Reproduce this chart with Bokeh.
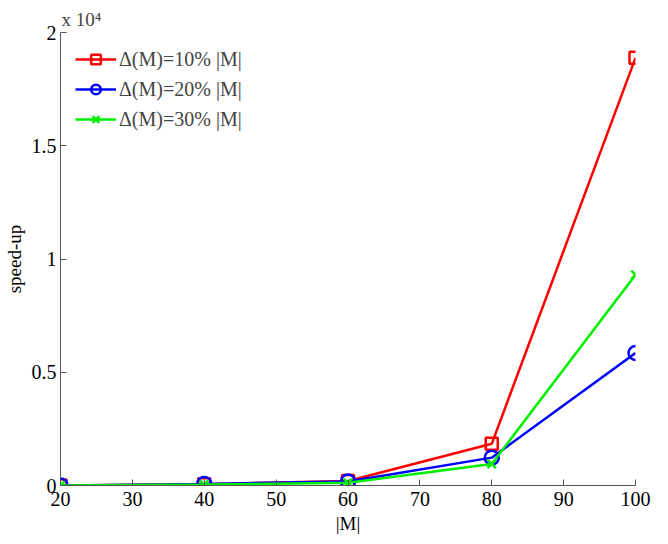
import numpy as np
from bokeh.plotting import figure
from bokeh.models import Range1d, FixedTicker, CustomJSTickFormatter, Legend, LegendItem, Title
from bokeh.embed import file_html
from bokeh.resources import INLINE

# Data
M = [20, 40, 60, 80, 100]
speedup_10 = [5, 60, 200, 1840, 18880]
speedup_20 = [5, 70, 180, 1230, 5850]
speedup_30 = [3, 40, 120, 950, 9300]
labels = ["\u0394(M)=10% |M|", "\u0394(M)=20% |M|", "\u0394(M)=30% |M|"]
x_ticks = [20, 30, 40, 50, 60, 70, 80, 90, 100]
y_ticks = [0, 0.5, 1, 1.5, 2]
scale = 1e4

FONT = "Liberation Serif"

p = figure(frame_width=575, frame_height=453, output_backend="svg", toolbar_location=None,
           x_range=Range1d(20, 100), y_range=Range1d(0, 2),
           min_border_left=54, min_border_right=23, min_border_top=32, min_border_bottom=44)
p.outline_line_color = None
p.grid.visible = False
p.background_fill_color = "white"

p.title = Title(text="x 10\u2074", align="left", offset=1, standoff=5,
                text_font=FONT, text_font_size="19px", text_font_style="normal")

for ax in (p.xaxis[0], p.yaxis[0]):
    ax.axis_line_color = "#555555"
    ax.major_tick_line_color = "#555555"
    ax.major_tick_in = 6
    ax.major_tick_out = 0
    ax.minor_tick_line_color = None
    ax.major_label_text_font = FONT
    ax.major_label_text_font_size = "20px"
    ax.major_label_text_color = "black"
    ax.axis_label_text_font = FONT
    ax.axis_label_text_font_size = "19px"
    ax.axis_label_text_font_style = "normal"
    ax.axis_label_text_color = "black"

p.xaxis.ticker = FixedTicker(ticks=x_ticks)
p.yaxis.ticker = FixedTicker(ticks=y_ticks)
p.yaxis.formatter = CustomJSTickFormatter(code="return String(tick)")
p.xaxis.axis_label = "|M|"
p.yaxis.axis_label = "speed-up"
p.xaxis.major_label_standoff = 6
p.yaxis.major_label_standoff = 4
p.xaxis.axis_label_standoff = 4
p.yaxis.axis_label_standoff = 4

y10 = np.array(speedup_10) / scale
y20 = np.array(speedup_20) / scale
y30 = np.array(speedup_30) / scale

r1 = p.line(M, y10, color="#ff0000", line_width=2.5)
m1 = p.scatter(M, y10, marker="square", size=12, fill_color=None, line_color="#ff0000", line_width=2.5)
r2 = p.line(M, y20, color="#0000ff", line_width=2.5)
m2 = p.scatter(M, y20, marker="circle", size=14, fill_color=None, line_color="#0000ff", line_width=2.5)
r3 = p.line(M, y30, color="#00ee00", line_width=2.5)
m3 = p.scatter(M, y30, marker="x", size=12, line_color="#00ee00", line_width=2.5)

legend = Legend(items=[LegendItem(label=labels[0], renderers=[r1, m1]),
                       LegendItem(label=labels[1], renderers=[r2, m2]),
                       LegendItem(label=labels[2], renderers=[r3, m3])],
                location="top_left")
legend.border_line_color = None
legend.background_fill_alpha = 0
legend.label_text_font = FONT
legend.label_text_font_size = "20px"
legend.glyph_width = 41
legend.glyph_height = 24
legend.label_height = 24
legend.spacing = 6
legend.margin = 15
legend.padding = 3
legend.label_standoff = 3
p.add_layout(legend)

open("out.html", "w").write(file_html(p, INLINE))
